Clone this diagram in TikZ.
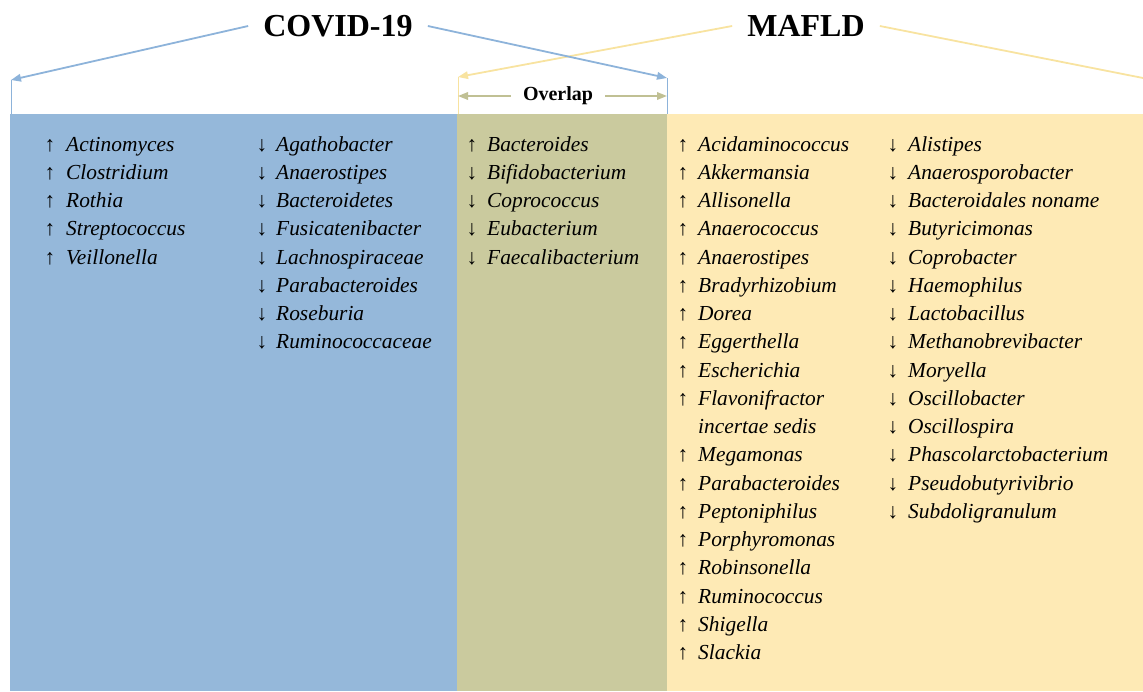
\documentclass[tikz,border=0pt]{standalone}
\usepackage{fontspec}
\setmainfont{Liberation Serif}
\usetikzlibrary{arrows.meta}
\definecolor{covidfill}{HTML}{95B8DA}
\definecolor{overlapfill}{HTML}{CACA9E}
\definecolor{mafldfill}{HTML}{FEEAB5}
\definecolor{covidline}{HTML}{8DB3DA}
\definecolor{mafldline}{HTML}{F8E3A0}
\definecolor{overlapline}{HTML}{C0C094}
\tikzset{
  genus/.style={anchor=base west,inner sep=0pt,font=\fontsize{21.4}{28.25}\selectfont\itshape},
  updown/.style={anchor=base,inner sep=0pt,font=\fontsize{21.4}{28.25}\selectfont},
  grouptitle/.style={inner ysep=0pt,inner xsep=15pt,font=\fontsize{32}{36}\selectfont\bfseries},
  overlaptitle/.style={inner ysep=0pt,inner xsep=12pt,font=\fontsize{20}{24}\selectfont\bfseries},
  spanline/.style={line width=1.8pt,-{Triangle[length=10pt,width=7.5pt]}},
}
\begin{document}
\begin{tikzpicture}[x=1pt,y=-1pt]
 \useasboundingbox (0,0) rectangle (1143,691);
 % coloured panels
 \fill[covidfill] (10,114) rectangle (457,691);
 \fill[overlapfill] (457,114) rectangle (667,691);
 \fill[mafldfill] (667,114) rectangle (1143,691);
 % titles
 \node[grouptitle] (covid) at (338,26) {COVID-19};
 \node[grouptitle] (mafld) at (806,26) {MAFLD};
 \node[overlaptitle] (overlap) at (558,96) {Overlap};
 % span ends
 \coordinate (covidL) at (11,80);
 \coordinate (covidR) at (667,78);
 \coordinate (mafldL) at (458,77);
 \coordinate (mafldR) at (1143,78);
 \coordinate (ovL) at (458,96);
 \coordinate (ovR) at (667,96);
 \draw[covidline,line width=0.9pt] (covidL) -- (11,114);
 \draw[covidline,line width=0.9pt] (covidR) -- (667,114);
 \draw[mafldline,line width=0.9pt] (mafldL) -- (458,114);
 \draw[spanline,mafldline] (mafld.west) -- (mafldL);
 \draw[mafldline,line width=1.8pt] (mafld.east) -- (mafldR);
 \draw[spanline,covidline] (covid.west) -- (covidL);
 \draw[spanline,covidline] (covid.east) -- (covidR);
 \draw[spanline,overlapline] (overlap.west) -- (ovL);
 \draw[spanline,overlapline] (overlap.east) -- (ovR);
 % COVID-19 only
 \foreach \g [count=\i] in {Actinomyces,Clostridium,Rothia,Streptococcus,Veillonella}{
   \node[updown] (cvu-\i) at (50,151+28.25*\i-28.25) {↑};
   \node[genus] (cvug-\i) at (66,151+28.25*\i-28.25) {\g};
 }
 \foreach \g [count=\i] in {Agathobacter,Anaerostipes,Bacteroidetes,Fusicatenibacter,Lachnospiraceae,Parabacteroides,Roseburia,Ruminococcaceae}{
   \node[updown] (cvd-\i) at (262,151+28.25*\i-28.25) {↓};
   \node[genus] (cvdg-\i) at (276,151+28.25*\i-28.25) {\g};
 }
 % overlap
 \node[updown] (ov-1) at (472,151) {↑};
 \node[genus] (ovg-1) at (487,151) {Bacteroides};
 \foreach \g [count=\i from 2] in {Bifidobacterium,Coprococcus,Eubacterium,Faecalibacterium}{
   \node[updown] (ov-\i) at (472,151+28.25*\i-28.25) {↓};
   \node[genus] (ovg-\i) at (487,151+28.25*\i-28.25) {\g};
 }
 % MAFLD only
 \foreach \g [count=\i] in {Acidaminococcus,Akkermansia,Allisonella,Anaerococcus,Anaerostipes,Bradyrhizobium,Dorea,Eggerthella,Escherichia,Flavonifractor}{
   \node[updown] (mfu-\i) at (683,151+28.25*\i-28.25) {↑};
   \node[genus] (mfug-\i) at (698,151+28.25*\i-28.25) {\g};
 }
 \node[genus] (mfug-11) at (698,433.5) {incertae sedis};
 \foreach \g [count=\i from 12] in {Megamonas,Parabacteroides,Peptoniphilus,Porphyromonas,Robinsonella,Ruminococcus,Shigella,Slackia}{
   \node[updown] (mfu-\i) at (683,151+28.25*\i-28.25) {↑};
   \node[genus] (mfug-\i) at (698,151+28.25*\i-28.25) {\g};
 }
 \foreach \g [count=\i] in {Alistipes,Anaerosporobacter,Bacteroidales noname,Butyricimonas,Coprobacter,Haemophilus,Lactobacillus,Methanobrevibacter,Moryella,Oscillobacter,Oscillospira,Phascolarctobacterium,Pseudobutyrivibrio,Subdoligranulum}{
   \node[updown] (mfd-\i) at (893,151+28.25*\i-28.25) {↓};
   \node[genus] (mfdg-\i) at (908,151+28.25*\i-28.25) {\g};
 }
\end{tikzpicture}
\end{document}
